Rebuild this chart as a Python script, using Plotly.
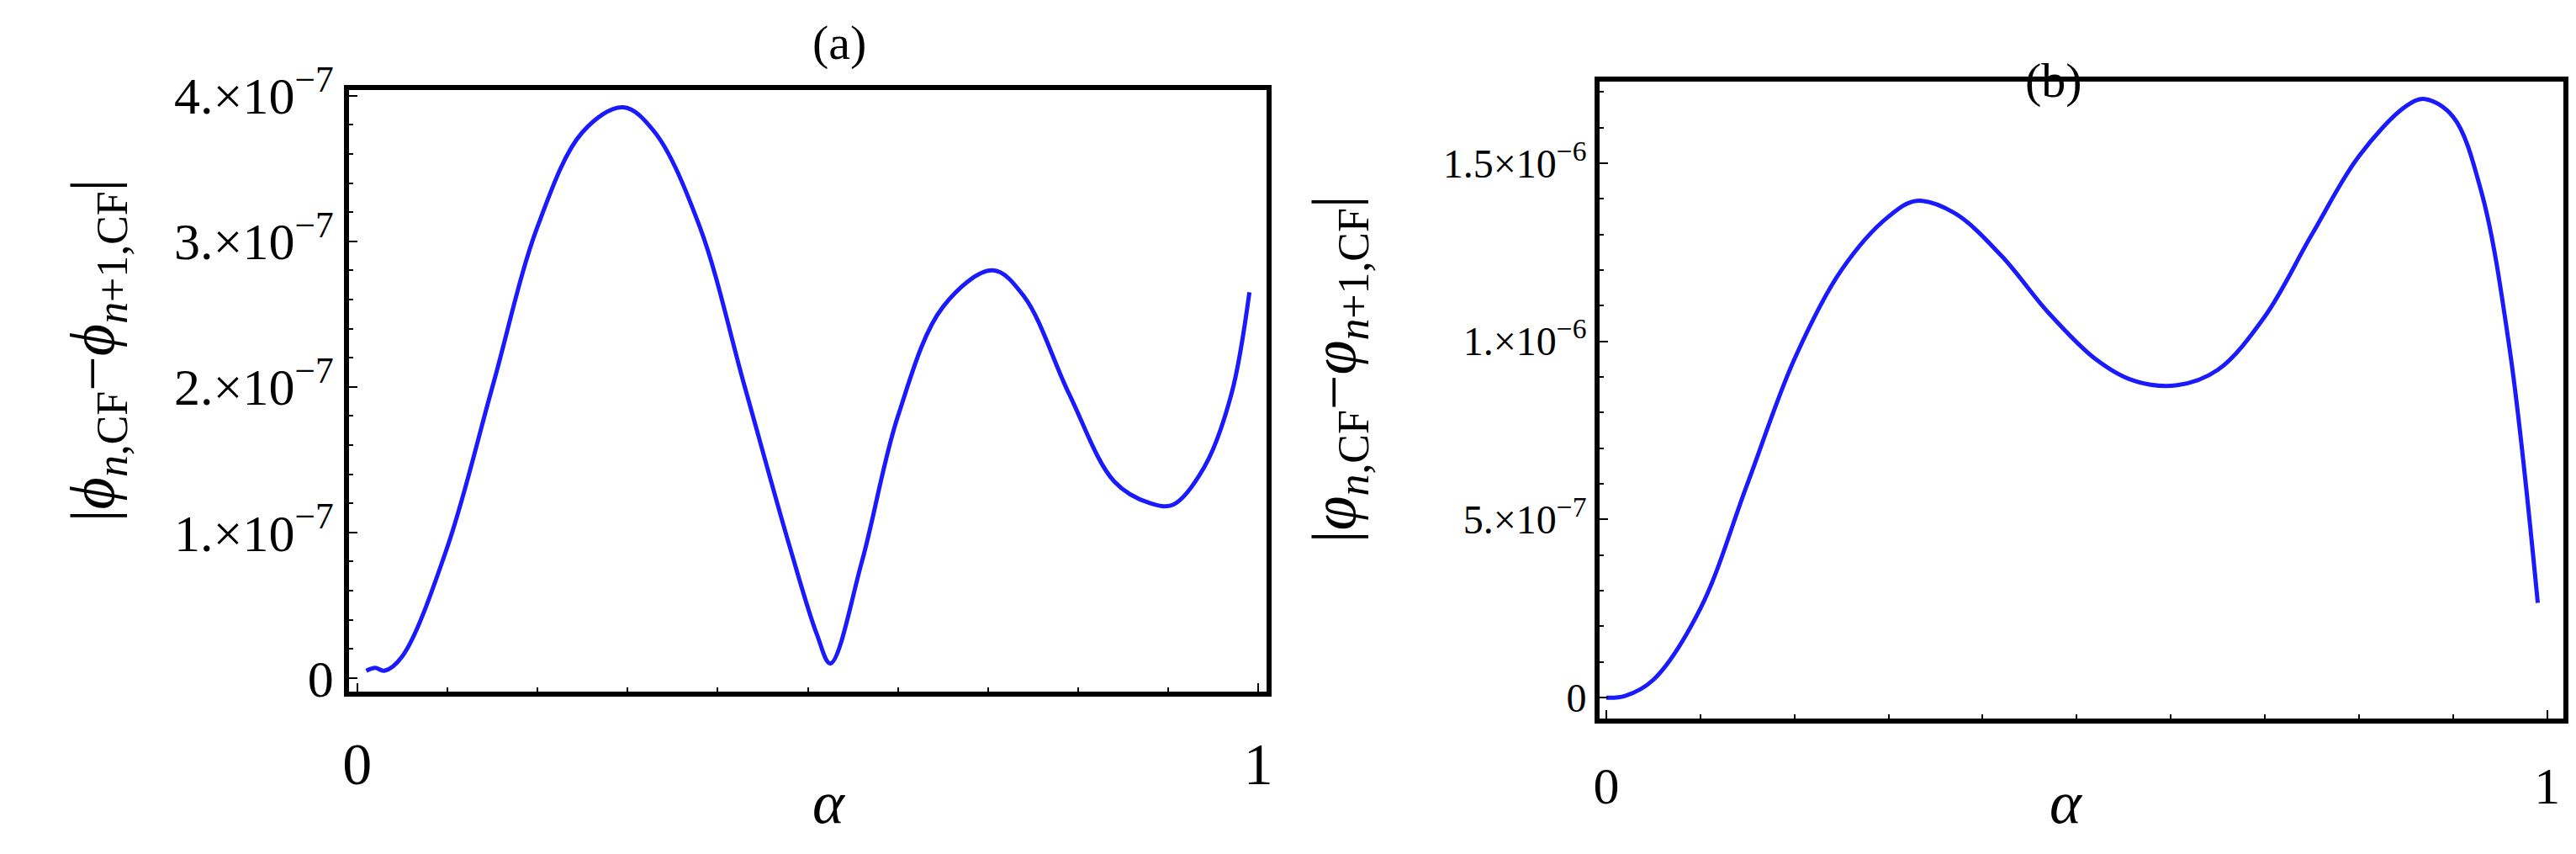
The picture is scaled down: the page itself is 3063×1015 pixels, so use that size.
import plotly.graph_objects as go

alpha_a = [0.01,0.02,0.03,0.05,0.1,0.15,0.2,0.25,0.295,0.33,0.38,0.43,0.48,0.51,0.525,0.56,0.6,0.65,0.705,0.74,0.79,0.84,0.88,0.905,0.94,0.97,0.99]
val_a = [0.05,0.07,0.05,0.15,0.9,2.0,3.1,3.75,3.92,3.75,3.1,2.0,0.9,0.3,0.1,0.8,1.8,2.55,2.8,2.62,1.95,1.35,1.2,1.19,1.45,1.95,2.65]
alpha_b = [0.0,0.02,0.05,0.1,0.15,0.2,0.25,0.3,0.33,0.37,0.42,0.47,0.52,0.56,0.607,0.65,0.7,0.75,0.8,0.85,0.87,0.9,0.93,0.96,0.99]
val_b = [0.0,0.005,0.05,0.25,0.6,0.95,1.2,1.35,1.394,1.36,1.24,1.08,0.95,0.89,0.877,0.92,1.07,1.3,1.52,1.66,1.68,1.63,1.42,0.98,0.266]

ticks_a = [0, 1e-7, 2e-7, 3e-7, 4e-7]
ticklabels_a = ["0", "1.×10<sup>−7</sup>", "2.×10<sup>−7</sup>", "3.×10<sup>−7</sup>", "4.×10<sup>−7</sup>"]
ticks_b = [0, 5e-7, 1e-6, 1.5e-6]
ticklabels_b = ["0", "5.×10<sup>−7</sup>", "1.×10<sup>−6</sup>", "1.5×10<sup>−6</sup>"]

font = "Liberation Serif"
fig = go.Figure()
fig.add_trace(go.Scatter(x=alpha_a, y=[v*1e-7 for v in val_a], mode="lines", line=dict(color="#1a1aff", width=5, shape="spline"), xaxis="x", yaxis="y"))
fig.add_trace(go.Scatter(x=alpha_b, y=[v*1e-6 for v in val_b], mode="lines", line=dict(color="#1a1aff", width=5, shape="spline"), xaxis="x2", yaxis="y2"))

common = dict(showline=True, linecolor="black", linewidth=6, mirror=True, ticks="inside", ticklen=10, tickwidth=2, tickcolor="black", showgrid=False, zeroline=False)
minor = dict(ticks="inside", ticklen=5, tickwidth=1.5, tickcolor="black")
fig.update_layout(
    width=3063, height=1015, margin=dict(l=0, r=0, t=0, b=0),
    plot_bgcolor="white", paper_bgcolor="white", showlegend=False,
    font=dict(family=font, color="black"),
    xaxis=dict(domain=[0.131, 0.489], range=[-0.009, 1.009], tickvals=[0, 1], ticktext=["0", "1"], tickfont=dict(size=70), ticklabelstandoff=20, minor=dict(**minor, dtick=0.1), **common),
    yaxis=dict(domain=[0.191, 0.935], range=[-0.096e-7, 4.036e-7], tickvals=ticks_a, ticktext=ticklabels_a, tickfont=dict(size=62), minor=dict(**minor, dtick=2e-8), **common),
    xaxis2=dict(domain=[0.619, 0.995], range=[-0.007, 1.017], anchor="y2", tickvals=[0, 1], ticktext=["0", "1"], tickfont=dict(size=62), ticklabelstandoff=20, minor=dict(**minor, dtick=0.1), **common),
    yaxis2=dict(domain=[0.158, 0.946], range=[-0.059e-6, 1.729e-6], anchor="x2", tickvals=ticks_b, ticktext=ticklabels_b, tickfont=dict(size=48), minor=dict(**minor, dtick=1e-7), **common),
)
ann = [
    dict(text="(a)", x=0.311, y=1.03, size=58, angle=0),
    dict(text="(b)", x=0.808, y=0.983, size=58, angle=0),
    dict(text="<i>α</i>", x=0.311, y=0.01, size=72, angle=0),
    dict(text="<i>α</i>", x=0.808, y=0.01, size=72, angle=0),
    dict(text="|<i>ϕ</i><sub><i>n</i>,CF</sub>−<i>ϕ</i><sub><i>n</i>+1,CF</sub>|", x=0.017, y=0.614, size=74, angle=-90),
    dict(text="|<i>φ</i><sub><i>n</i>,CF</sub>−<i>φ</i><sub><i>n</i>+1,CF</sub>|", x=0.517, y=0.59, size=74, angle=-90),
]
for a in ann:
    fig.add_annotation(text=a["text"], x=a["x"], y=a["y"], xref="paper", yref="paper", showarrow=False, textangle=a["angle"], font=dict(size=a["size"], family=font, color="black"))
fig.write_html("out.html")
